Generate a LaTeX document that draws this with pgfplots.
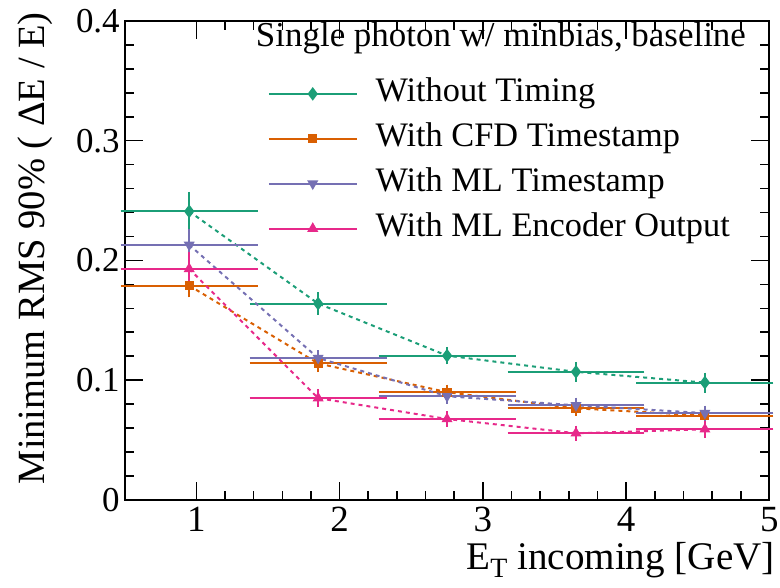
\documentclass[border=0pt]{standalone}
\usepackage{pgfplots}
\pgfplotsset{compat=1.18}
\usepackage{fontspec}
\setmainfont{Liberation Serif}
\definecolor{cgreen}{HTML}{1B9E77}
\definecolor{corange}{HTML}{D95F02}
\definecolor{cpurple}{HTML}{7570B3}
\definecolor{cpink}{HTML}{E7298A}
\pgfplotstableread{
x ex y ey
0.95 0.45 0.241 0.013
1.85 0.45 0.164 0.006
2.75 0.45 0.1205 0.004
3.65 0.45 0.107 0.005
4.55 0.45 0.098 0.005
}\tgreen
\pgfplotstableread{
x ex y ey
0.95 0.45 0.179 0.0065
1.85 0.45 0.114 0.004
2.75 0.45 0.090 0.003
3.65 0.45 0.0765 0.003
4.55 0.45 0.0705 0.003
}\torange
\pgfplotstableread{
x ex y ey
0.95 0.45 0.213 0.010
1.85 0.45 0.1185 0.003
2.75 0.45 0.0866 0.003
3.65 0.45 0.079 0.003
4.55 0.45 0.0725 0.003
}\tpurple
\pgfplotstableread{
x ex y ey
0.95 0.45 0.193 0.0105
1.85 0.45 0.085 0.004
2.75 0.45 0.0676 0.003
3.65 0.45 0.0557 0.003
4.55 0.45 0.059 0.004
}\tpink
\begin{document}
\begin{tikzpicture}
\begin{axis}[
  scale only axis, width=323pt, height=240pt,
  xmin=0.5, xmax=5, ymin=0, ymax=0.4,
  clip=false,
  xtick={1,2,3,4,5}, ytick={0,0.1,0.2,0.3,0.4},
  minor x tick num=4, minor y tick num=4,
  tick align=inside, tick pos=both,
  xticklabel pos=lower, yticklabel pos=left,
  major tick length=9pt, minor tick length=4.5pt,
  every tick/.style={black, line width=0.8pt},
  axis line style={line width=1pt},
  /pgf/number format/assume math mode=true,
  yticklabel style={/pgf/number format/fixed, /pgf/number format/precision=1, font=\fontsize{17.5}{17.5}\selectfont, xshift=1pt},
  xticklabel style={font=\fontsize{18.5}{18.5}\selectfont, inner sep=0pt, yshift=-3.5pt},
  xlabel={E\raisebox{-0.45ex}{\fontsize{14}{14}\selectfont T} incoming [GeV]},
  ylabel={Minimum RMS 90\% ( ΔE / E)},
  xlabel style={at={(axis description cs:1.009,-0.1455)}, anchor=base east, inner sep=0pt, font=\fontsize{19.6}{19.6}\selectfont},
  ylabel style={at={(axis description cs:-0.139,1.033)}, anchor=east, font=\fontsize{19.3}{19.3}\selectfont},
  legend style={at={(axis description cs:0.2214,0.884)}, anchor=north west, draw=none, fill=none,
    font=\fontsize{17.2}{20}\selectfont, row sep=5.5pt, inner sep=0pt,
    nodes={inner sep=0pt, text height=12.5pt, text depth=4.5pt},
    /tikz/every odd column/.append style={column sep=9pt}},
  legend cell align=left,
  legend image code/.code={\draw[solid, line width=1pt, mark repeat=2, mark phase=2] plot coordinates {(0pt,0pt) (22pt,0pt) (44pt,0pt)};},
  every axis plot/.append style={line width=1pt, dash pattern=on 2pt off 2pt},
  error bars/error bar style={solid, line width=1pt},
  error bars/error mark options={solid, mark size=2pt, line width=1pt},
]
\addplot[cgreen, mark=diamond*, mark size=2.6pt, mark options={solid},
  error bars/.cd, x dir=both, x explicit, y dir=both, y explicit]
  table[x=x, y=y, x error=ex, y error=ey] {\tgreen};
\addlegendentry{Without Timing}
\addplot[corange, mark=square*, mark size=1.8pt, mark options={solid},
  error bars/.cd, x dir=both, x explicit, y dir=both, y explicit]
  table[x=x, y=y, x error=ex, y error=ey] {\torange};
\addlegendentry{With CFD Timestamp}
\addplot[cpurple, mark=triangle*, mark size=2.2pt, mark options={solid, rotate=180},
  error bars/.cd, x dir=both, x explicit, y dir=both, y explicit]
  table[x=x, y=y, x error=ex, y error=ey] {\tpurple};
\addlegendentry{With ML Timestamp}
\addplot[cpink, mark=triangle*, mark size=2.2pt, mark options={solid},
  error bars/.cd, x dir=both, x explicit, y dir=both, y explicit]
  table[x=x, y=y, x error=ex, y error=ey] {\tpink};
\addlegendentry{With ML Encoder Output}
\node[anchor=base west, inner sep=0pt, font=\fontsize{17.5}{20}\selectfont] at (axis description cs:0.203,0.946) {Single photon w/ minbias, baseline};
\path (axis description cs:-0.1935,-0.1833) rectangle (axis description cs:1.014,1.04375);
\end{axis}
\end{tikzpicture}
\end{document}
